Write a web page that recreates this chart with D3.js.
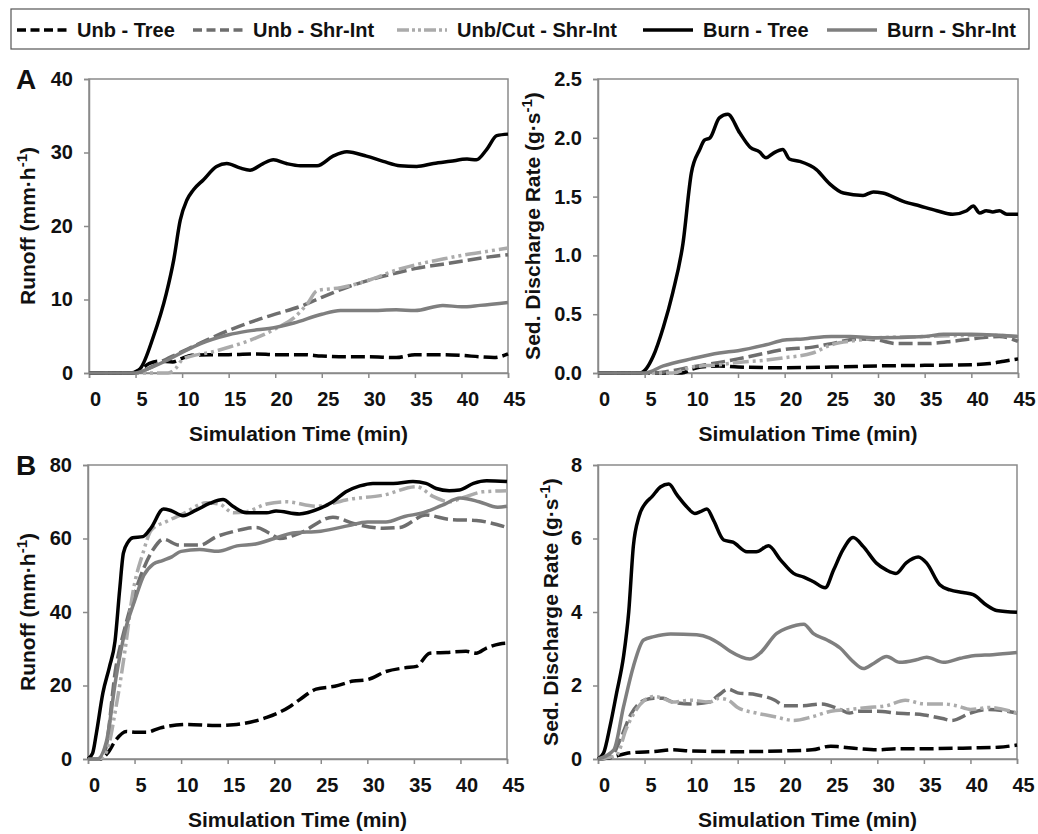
<!DOCTYPE html>
<html>
<head>
<meta charset="utf-8">
<script src="https://cdn.jsdelivr.net/npm/d3@7"></script>
<style>
    body { margin: 0; background: #fff; }
    text { font-family: "Liberation Sans", Arial, sans-serif; font-weight: bold; fill: #111; }
</style>
</head>
<body>
<div class="chart"></div>
<script>
// series names, in legend order
var seriesNames = ['Unb - Tree', 'Unb - Shr-Int', 'Unb/Cut - Shr-Int', 'Burn - Tree', 'Burn - Shr-Int'];

var timeTicks = [0, 5, 10, 15, 20, 25, 30, 35, 40, 45];
var runoffTicksA = [0, 10, 20, 30, 40];
var sedTicksA = [0, 0.5, 1.0, 1.5, 2.0, 2.5];
var runoffTicksB = [0, 20, 40, 60, 80];
var sedTicksB = [0, 2, 4, 6, 8];

// [minute, value]
// A - runoff (mm/h)
var aRunUnbTree = [[0, 0], [4.5, 0], [5.5, 0.5], [6.5, 1.3], [7.5, 1.6], [9, 1.5], [10, 2.0], [11, 2.4], [13, 2.5], [15, 2.5], [18, 2.6], [20, 2.5], [23, 2.5], [25, 2.3], [28, 2.2], [30, 2.2], [33, 2.1], [35, 2.5], [38, 2.5], [40, 2.4], [42, 2.2], [43.5, 2.1], [45, 2.6]];
var aRunUnbShr = [[0, 0], [5, 0], [6, 0.4], [7, 1.0], [8, 1.7], [10, 2.9], [12, 4.1], [15, 5.8], [18, 7.2], [20, 8.0], [23, 9.2], [25, 10.3], [28, 11.8], [30, 12.6], [33, 13.6], [35, 14.2], [38, 14.8], [40, 15.2], [43, 15.8], [45, 16.1]];
var aRunUnbCut = [[0, 0], [8.5, 0], [9.3, 0.6], [10, 1.8], [11, 2.3], [13, 2.8], [15, 3.5], [18, 4.8], [20, 6.0], [22, 7.5], [23.5, 9.5], [24.5, 11.2], [27, 11.6], [30, 12.6], [33, 14.0], [35, 14.7], [38, 15.5], [40, 16.0], [43, 16.6], [45, 17.0]];
var aRunBurnTree = [[0, 0], [4.6, 0], [5.5, 0.6], [6.9, 4.9], [8.3, 10.8], [9.1, 15.4], [9.8, 20.8], [10.5, 23.5], [11.2, 24.9], [12.3, 26.3], [13.7, 28.1], [14.8, 28.5], [16.2, 27.9], [17.3, 27.6], [18.7, 28.5], [19.8, 29.0], [21.2, 28.5], [22.7, 28.2], [24.5, 28.2], [26.2, 29.5], [27.7, 30.1], [29.8, 29.5], [31.6, 28.8], [33.4, 28.2], [35.2, 28.1], [37, 28.5], [38.8, 28.8], [40.6, 29.1], [41.6, 29.0], [42.7, 30.4], [43.8, 32.3], [45, 32.5]];
var aRunBurnShr = [[0, 0], [5, 0], [6, 0.4], [8, 1.5], [10, 2.8], [12, 4.0], [15, 5.2], [17, 5.7], [20, 6.2], [22, 6.8], [25, 8.0], [27, 8.5], [30, 8.5], [33, 8.6], [35, 8.5], [38, 9.2], [40, 9.0], [42, 9.2], [45, 9.6]];

// A - sediment discharge (g/s)
var aSedUnbTree = [[0, 0], [9, 0], [10, 0.03], [11, 0.05], [13, 0.06], [15, 0.05], [20, 0.045], [25, 0.05], [30, 0.06], [35, 0.065], [40, 0.07], [42, 0.08], [43.5, 0.1], [45, 0.12]];
var aSedUnbShr = [[0, 0], [6, 0], [8, 0.02], [10, 0.05], [13, 0.09], [15, 0.12], [18, 0.17], [20, 0.2], [23, 0.22], [25, 0.25], [28, 0.29], [30, 0.28], [32, 0.25], [35, 0.25], [38, 0.27], [40, 0.29], [43, 0.31], [45, 0.27]];
var aSedUnbCut = [[0, 0], [8, 0], [10, 0.05], [13, 0.07], [15, 0.09], [18, 0.11], [20, 0.13], [23, 0.17], [25, 0.24], [28, 0.28], [30, 0.3], [35, 0.31], [40, 0.32], [43, 0.32], [45, 0.31]];
var aSedBurnTree = [[0, 0], [4.5, 0], [5.2, 0.04], [5.9, 0.14], [7.0, 0.39], [8.0, 0.68], [9.1, 1.1], [10, 1.7], [10.9, 1.9], [11.4, 1.98], [12.0, 2.0], [13.0, 2.17], [13.9, 2.2], [15.2, 2.04], [16.3, 1.92], [17.3, 1.88], [18.0, 1.83], [18.8, 1.87], [19.8, 1.9], [20.5, 1.82], [21.6, 1.8], [23.4, 1.73], [24.8, 1.61], [26.3, 1.53], [28.4, 1.51], [29.5, 1.54], [30.5, 1.53], [32.7, 1.46], [34.5, 1.42], [36.3, 1.38], [38, 1.35], [39.5, 1.38], [40.2, 1.42], [40.9, 1.36], [41.6, 1.38], [42.3, 1.37], [43, 1.38], [43.8, 1.35], [45, 1.35]];
var aSedBurnShr = [[0, 0], [5, 0], [7, 0.06], [10, 0.12], [13, 0.17], [15, 0.19], [18, 0.24], [20, 0.28], [22, 0.29], [25, 0.31], [27, 0.31], [30, 0.3], [35, 0.31], [37, 0.33], [40, 0.33], [43, 0.32], [45, 0.31]];

// B - runoff (mm/h)
var bRunUnbTree = [[0, 0], [1.25, 0], [2.1, 1.6], [3, 5.2], [4.1, 7.5], [5, 7.3], [6.3, 7.3], [7.7, 8.4], [10.6, 9.4], [13.8, 9.1], [15.6, 9.3], [17.4, 10], [19.2, 11.3], [21.7, 14.3], [22.7, 16.1], [24.5, 19], [26.5, 19.8], [28.5, 21.2], [30, 21.6], [32, 23.8], [34, 24.8], [35.3, 25.2], [36.7, 28.8], [38.5, 29], [40.6, 29.3], [41.7, 28.8], [42.8, 30.2], [44.2, 31.3], [45, 31.5]];
var bRunUnbShr = [[0, 0], [1, 0], [1.8, 2], [3, 25], [4, 36], [5, 45], [6, 52], [7, 57], [8.1, 59.8], [9.8, 58.2], [12, 58.2], [13.8, 60.5], [15.6, 61.9], [18.1, 63], [19.5, 61.4], [20.6, 60], [22.7, 61.4], [26.3, 65.8], [28.5, 64.1], [31.7, 62.8], [33.5, 63], [36.3, 66.4], [38.8, 65.2], [41.7, 64.9], [45, 63]];
var bRunUnbCut = [[0, 0], [1.2, 0], [2, 2], [3, 14], [4, 30], [4.8, 45], [5.9, 56], [6.8, 62.3], [8.4, 64.6], [10.2, 66.7], [12.7, 69.7], [14.1, 69.4], [15.6, 67], [17, 67.3], [19.2, 69.4], [21.3, 70], [24.5, 68.8], [28.1, 70.7], [31.7, 71.8], [35.3, 74.1], [37.1, 71.4], [38.8, 70], [40.6, 71.4], [42.4, 72.7], [45, 73]];
var bRunBurnTree = [[0, 0], [0.5, 1.6], [0.9, 7], [1.6, 18], [2.3, 25], [2.9, 32], [3.4, 46], [3.8, 56], [4.3, 59], [4.8, 60.2], [5.9, 60.5], [6.8, 63], [8.1, 68], [8.8, 67.7], [10.2, 66.2], [11.6, 67.7], [13.1, 69.6], [14.5, 70.6], [15.6, 68.7], [17, 67], [19.2, 67], [20.2, 67.5], [22.7, 66.7], [24.9, 68.2], [26.3, 70], [27.7, 72.7], [29.2, 74.3], [30.6, 75], [32.8, 75], [34.9, 75.5], [36.3, 75], [37.4, 73.6], [38.8, 73], [39.9, 73.2], [41.4, 75], [42.8, 75.7], [45, 75.5]];
var bRunBurnShr = [[0, 0], [1, 0], [2, 5], [3, 22], [4, 35], [5, 43], [6, 50], [7, 53], [8, 54], [9, 55], [10, 56.5], [12, 57], [14, 56.5], [16, 58], [18, 58.5], [20, 60], [22, 61.5], [25, 62], [28, 63.5], [30, 64.5], [32, 64.5], [34, 66], [36, 67], [38, 69], [40, 71], [42, 70], [44, 68.5], [45, 68.8]];

// B - sediment discharge (g/s)
var bSedUnbTree = [[0, 0], [1.5, 0.05], [3, 0.15], [4, 0.18], [6, 0.2], [8, 0.25], [10, 0.22], [15, 0.2], [20, 0.22], [23, 0.25], [25, 0.35], [26, 0.33], [28, 0.28], [30, 0.25], [32, 0.28], [35, 0.28], [40, 0.3], [43, 0.32], [45, 0.38]];
var bSedUnbShr = [[0, 0], [1.5, 0.1], [2.5, 0.6], [3.5, 1.2], [5, 1.6], [6, 1.65], [7, 1.65], [8, 1.55], [10, 1.5], [12, 1.55], [13, 1.75], [14, 1.9], [15, 1.8], [17, 1.75], [19, 1.6], [20, 1.45], [22, 1.45], [24, 1.5], [26, 1.35], [27, 1.25], [28, 1.3], [30, 1.3], [32, 1.25], [35, 1.2], [37, 1.1], [38, 1.05], [40, 1.25], [42, 1.35], [45, 1.25]];
var bSedUnbCut = [[0, 0], [2, 0.1], [3, 0.8], [4, 1.3], [5, 1.6], [6, 1.7], [7, 1.65], [8, 1.55], [10, 1.6], [12, 1.55], [13, 1.65], [14, 1.6], [15, 1.4], [17, 1.25], [19, 1.15], [21, 1.05], [23, 1.15], [25, 1.3], [27, 1.35], [29, 1.4], [31, 1.45], [33, 1.6], [35, 1.5], [37, 1.5], [38.5, 1.45], [40, 1.35], [42, 1.4], [45, 1.25]];
var bSedBurnTree = [[0, 0], [0.6, 0.16], [1.3, 0.9], [2, 1.8], [2.75, 2.8], [3.3, 4.0], [3.8, 5.8], [4.4, 6.6], [5.1, 6.96], [5.8, 7.14], [6.7, 7.4], [7.6, 7.48], [8.5, 7.18], [9.5, 6.87], [10.4, 6.68], [11, 6.73], [11.7, 6.8], [12.4, 6.5], [13.5, 5.96], [14.5, 5.9], [16, 5.64], [17, 5.64], [18.3, 5.8], [19.6, 5.42], [21, 5.05], [22.1, 4.95], [23.1, 4.83], [24.4, 4.66], [25.3, 5.14], [26.3, 5.69], [27.4, 6.03], [28.5, 5.78], [29.9, 5.33], [31, 5.14], [32, 5.05], [33.1, 5.34], [34.4, 5.5], [35.3, 5.33], [36.7, 4.74], [37.8, 4.6], [39.2, 4.53], [40.3, 4.47], [41.7, 4.19], [42.8, 4.04], [45, 3.99]];
var bSedBurnShr = [[0, 0], [1.7, 0.25], [2.75, 1.43], [3.8, 2.52], [4.9, 3.24], [6, 3.33], [7.8, 3.4], [10.6, 3.38], [12, 3.29], [13.1, 3.13], [14.2, 2.93], [16.3, 2.72], [17.4, 2.88], [19.2, 3.42], [20.3, 3.56], [22.1, 3.67], [23.1, 3.42], [24.6, 3.24], [26, 3.02], [27.4, 2.65], [28.5, 2.46], [29.6, 2.6], [31, 2.79], [32.4, 2.63], [34.2, 2.7], [35.3, 2.77], [37.1, 2.63], [38.9, 2.74], [40.3, 2.81], [42.4, 2.84], [45, 2.9]];

var lineStyles = [
    {color: '#000', dash: '14,5', legendDash: '9,4.5'},
    {color: '#6e6e6e', dash: '14,5', legendDash: '9,4.5'},
    {color: '#ababab', dash: '16,4,3,4,3,4', legendDash: '12,3,3,3,3,3'},
    {color: '#000', dash: null, legendDash: null},
    {color: '#7f7f7f', dash: null, legendDash: null}
];

var svg = d3.select('.chart').append('svg')
    .attr('width', 1038)
    .attr('height', 834);

function drawPanel(box, yDomain, yTicks, yFormat, series, yTitle, titleGap, letter) {
    var x = d3.scaleLinear().domain([0, 45]).range([box.left, box.right]);
    var y = d3.scaleLinear().domain(yDomain).range([box.bottom, box.top]);
    var g = svg.append('g');

    // plot frame
    g.append('rect')
        .attr('x', box.left).attr('y', box.top)
        .attr('width', box.right - box.left).attr('height', box.bottom - box.top)
        .attr('fill', 'none').attr('stroke', '#8a8a8a').attr('stroke-width', 1.5);

    var xAxis = g.append('g')
        .attr('transform', 'translate(0,' + box.bottom + ')')
        .call(d3.axisBottom(x).tickValues(timeTicks).tickSize(5).tickPadding(14));
    xAxis.selectAll('text').attr('dx', 6).style('font-size', '20px');

    var yAxis = g.append('g')
        .attr('transform', 'translate(' + box.left + ',0)')
        .call(d3.axisLeft(y).tickValues(yTicks).tickFormat(yFormat).tickSize(5).tickPadding(11));
    yAxis.selectAll('text').style('font-size', '20px');

    [xAxis, yAxis].forEach(function (a) {
        a.select('.domain').attr('stroke', '#8a8a8a').attr('stroke-width', 1.5);
        a.selectAll('.tick line').attr('stroke', '#8a8a8a').attr('stroke-width', 1.5);
        a.selectAll('text').attr('fill', '#111').style('font-family', '"Liberation Sans", Arial, sans-serif').style('font-weight', 'bold');
    });

    var line = d3.line()
        .x(function (d) { return x(d[0]); })
        .y(function (d) { return y(d[1]); })
        .curve(d3.curveMonotoneX);

    for (var i = 0; i < series.length; i++) {
        var st = lineStyles[i];
        g.append('path')
            .datum(series[i])
            .attr('d', line)
            .attr('fill', 'none')
            .attr('stroke', st.color)
            .attr('stroke-width', 3.5)
            .attr('stroke-linejoin', 'round')
            .attr('stroke-dasharray', st.dash);
    }

    // axis titles
    g.append('text')
        .attr('x', (box.left + box.right) / 2)
        .attr('y', box.bottom + 68)
        .attr('text-anchor', 'middle')
        .style('font-size', '21px')
        .text('Simulation Time (min)');

    var yt = g.append('text')
        .attr('transform', 'translate(' + (box.left - titleGap) + ',' + ((box.top + box.bottom) / 2) + ') rotate(-90)')
        .attr('text-anchor', 'middle')
        .attr('dy', '0.35em')
        .style('font-size', '21px');
    yt.append('tspan').text(yTitle);
    yt.append('tspan').attr('dy', -8).style('font-size', '15px').text('-1');
    yt.append('tspan').attr('dy', 8).text(')');

    if (letter) {
        g.append('text')
            .attr('x', 26).attr('y', box.top + 10)
            .attr('text-anchor', 'middle')
            .style('font-size', '28px')
            .text(letter);
    }
}

var fmtInt = d3.format('d');
var fmtOne = d3.format('.1f');

drawPanel({left: 89, right: 508, top: 79, bottom: 373}, [0, 40], runoffTicksA, fmtInt,
    [aRunUnbTree, aRunUnbShr, aRunUnbCut, aRunBurnTree, aRunBurnShr], 'Runoff (mm\u00b7h', 61, 'A');
drawPanel({left: 598, right: 1018, top: 79, bottom: 373}, [0, 2.5], sedTicksA, fmtOne,
    [aSedUnbTree, aSedUnbShr, aSedUnbCut, aSedBurnTree, aSedBurnShr], 'Sed. Discharge Rate (g\u00b7s', 65, null);
drawPanel({left: 88, right: 507, top: 465, bottom: 759}, [0, 80], runoffTicksB, fmtInt,
    [bRunUnbTree, bRunUnbShr, bRunUnbCut, bRunBurnTree, bRunBurnShr], 'Runoff (mm\u00b7h', 60, 'B');
drawPanel({left: 598, right: 1017, top: 465, bottom: 759}, [0, 8], sedTicksB, fmtInt,
    [bSedUnbTree, bSedUnbShr, bSedUnbCut, bSedBurnTree, bSedBurnShr], 'Sed. Discharge Rate (g\u00b7s', 47, null);

// legend
var legendX = [17, 193, 397, 643, 827];
var legend = svg.append('g');
legend.append('rect')
    .attr('x', 11).attr('y', 9).attr('width', 1018).attr('height', 40)
    .attr('fill', 'none').attr('stroke', '#555').attr('stroke-width', 1.2);

seriesNames.forEach(function (name, i) {
    var st = lineStyles[i];
    legend.append('line')
        .attr('x1', legendX[i]).attr('x2', legendX[i] + 50)
        .attr('y1', 30).attr('y2', 30)
        .attr('stroke', st.color).attr('stroke-width', 3.5)
        .attr('stroke-dasharray', st.legendDash);
    legend.append('text')
        .attr('x', legendX[i] + 60).attr('y', 30)
        .attr('dy', '0.35em')
        .style('font-size', '20px')
        .text(name);
});
</script>
</body>
</html>
